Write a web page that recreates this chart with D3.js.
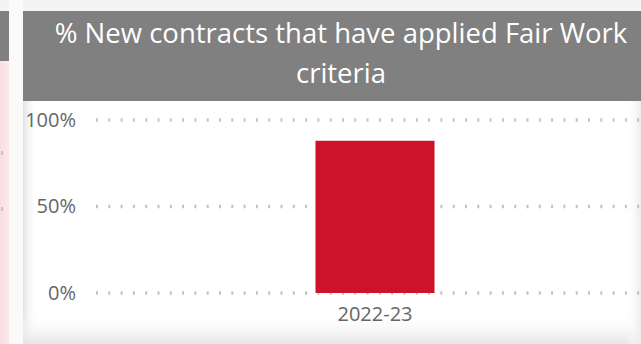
<!DOCTYPE html>
<html>
<head>
<meta charset="utf-8">
<script src="https://cdnjs.cloudflare.com/ajax/libs/d3/7.8.5/d3.min.js"></script>
<style>
  body { margin: 0; background: #f4f4f4; }
  svg { display: block; font-family: 'Segoe UI', 'Open Sans', sans-serif; }
</style>
</head>
<body>
<script>
var title = ['% New contracts that have applied Fair Work', 'criteria']
var categories = ['2022-23']
var values = [0.88]
var yTicks = [0, 0.5, 1]

var W = 641, H = 344
var font = "'Segoe UI', 'Open Sans', sans-serif"

var svg = d3.select('body').append('svg').attr('width', W).attr('height', H)
var defs = svg.append('defs')

// panel shading
var gl = defs.append('linearGradient').attr('id', 'shadeL').attr('x1', 0).attr('x2', 1)
gl.append('stop').attr('offset', 0).attr('stop-color', '#e2e2e2')
gl.append('stop').attr('offset', 1).attr('stop-color', '#fff').attr('stop-opacity', 0)
var gb = defs.append('linearGradient').attr('id', 'shadeB').attr('x1', 0).attr('x2', 0).attr('y1', 0).attr('y2', 1)
gb.append('stop').attr('offset', 0).attr('stop-color', '#fff').attr('stop-opacity', 0)
gb.append('stop').attr('offset', 1).attr('stop-color', '#e6e6e6')
var gr = defs.append('linearGradient').attr('id', 'shadeR').attr('x1', 0).attr('x2', 1)
gr.append('stop').attr('offset', 0).attr('stop-color', '#fff').attr('stop-opacity', 0)
gr.append('stop').attr('offset', 1).attr('stop-color', '#ececec')
var gp = defs.append('linearGradient').attr('id', 'pink').attr('x1', 0).attr('x2', 1)
gp.append('stop').attr('offset', 0).attr('stop-color', '#f9dfe3')
gp.append('stop').attr('offset', 1).attr('stop-color', '#fbe8eb')

// neighbour panel peeking in on the left
svg.append('rect').attr('x', 0).attr('y', 11).attr('width', 9).attr('height', H).style('fill', 'url(#pink)')
svg.append('rect').attr('x', 0).attr('y', 11).attr('width', 9).attr('height', 50).style('fill', '#808080')
svg.append('rect').attr('x', 9).attr('y', 0).attr('width', 14).attr('height', H).style('fill', '#fafafa')
;[153, 209].forEach(function(yy){
  svg.append('rect').attr('x', 1).attr('y', yy - 2).attr('width', 2).attr('height', 4).style('fill', '#c4c4c4')
})

// main panel
svg.append('rect').attr('x', 23).attr('y', 101).attr('width', W - 23).attr('height', H - 101).style('fill', '#fff')
svg.append('rect').attr('x', 23).attr('y', 101).attr('width', 14).attr('height', H - 101).style('fill', 'url(#shadeL)')
svg.append('rect').attr('x', 23).attr('y', 312).attr('width', W - 23).attr('height', H - 312).style('fill', 'url(#shadeB)')
svg.append('rect').attr('x', 626).attr('y', 101).attr('width', 15).attr('height', H - 101).style('fill', 'url(#shadeR)')

svg.append('rect').attr('x', 23).attr('y', 11).attr('width', W - 23).attr('height', 90).style('fill', '#808080')
svg.append('g').selectAll('text').data(title).join('text')
    .attr('x', 341)
    .attr('y', function(d, i){ return 43 + i * 40 })
    .attr('text-anchor', 'middle')
    .style('fill', '#fff')
    .style('font-size', '27.5px')
    .text(function(d){ return d })

var x = d3.scaleBand().domain(categories).range([98, 652]).paddingInner(0.1).paddingOuter(1.645)
var y = d3.scaleLinear().domain([0, 1]).range([293, 120])

// dotted gridlines
svg.append('g').selectAll('line').data(yTicks).join('line')
    .attr('x1', 96).attr('x2', W)
    .attr('y1', function(d){ return y(d) }).attr('y2', function(d){ return y(d) })
    .style('stroke', '#c2c2c2')
    .style('stroke-width', 3.5)
    .style('stroke-dasharray', '2,10.3')

var yAxis = d3.axisLeft(y).tickValues(yTicks).tickSize(0).tickPadding(0).tickFormat(d3.format('.0%'))
var ya = svg.append('g').attr('transform', 'translate(76,0)').call(yAxis)
    .attr('font-family', font).attr('font-size', 20)
ya.select('.domain').remove()
ya.selectAll('text').style('fill', '#666')

svg.append('g').selectAll('rect').data(values).join('rect')
    .attr('x', function(d, i){ return x(categories[i]) })
    .attr('width', x.bandwidth())
    .attr('y', function(d){ return y(d) })
    .attr('height', function(d){ return y(0) - y(d) })
    .style('fill', '#cc1329')

var xAxis = d3.axisBottom(x).tickSize(0).tickPadding(0)
var xa = svg.append('g').attr('transform', 'translate(0,307)').call(xAxis)
    .attr('font-family', font).attr('font-size', 20)
xa.select('.domain').remove()
xa.selectAll('text').style('fill', '#666')
</script>
</body>
</html>
